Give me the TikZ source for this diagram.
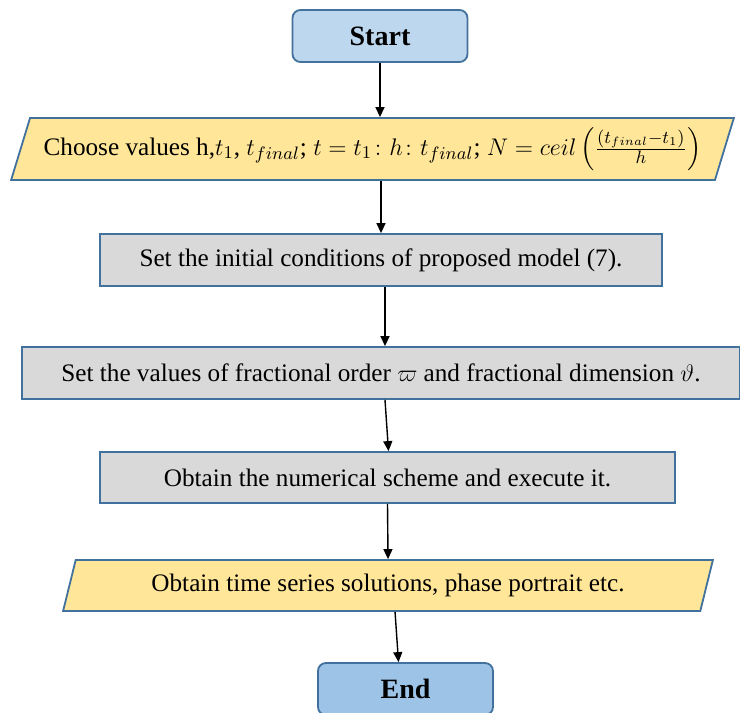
\documentclass[tikz,border=0pt]{standalone}
\usepackage{amsmath}
\usepackage{fontspec}
\setmainfont{Liberation Serif}
\usetikzlibrary{arrows.meta,shapes.geometric}
\definecolor{edgeBlue}{HTML}{41719C}
\definecolor{startBlue}{HTML}{BDD7EE}
\definecolor{endBlue}{HTML}{9DC3E6}
\definecolor{ioGold}{HTML}{FFE699}
\definecolor{stepGray}{HTML}{D9D9D9}
\tikzset{
  terminal card/.style={
    draw=edgeBlue,
    fill=startBlue,
    rounded corners=4pt,
    line width=0.9pt,
    minimum width=87.5pt,
    minimum height=26pt,
    font=\fontsize{14}{16}\selectfont\bfseries
  },
  io card/.style={
    trapezium,
    trapezium stretches=true,
    draw=edgeBlue,
    fill=ioGold,
    line width=0.9pt,
    inner xsep=2pt,
    font=\fontsize{12.6}{15}\selectfont
  },
  stepbox/.style={
    draw=edgeBlue,
    fill=stepGray,
    line width=0.9pt,
    minimum height=26pt,
    font=\fontsize{12.6}{15}\selectfont
  },
  flow edge/.style={
    -{Triangle[length=5pt,width=4.5pt]},
    draw=black,
    line width=0.7pt
  }
}

\begin{document}
\begin{tikzpicture}[x=0.5pt,y=-0.5pt]
  \useasboundingbox (0,0) rectangle (740,713);

  \node[terminal card] (start) at (380,36) {Start};

  \node[io card,trapezium left angle=72,trapezium right angle=108,
        minimum width=362.5pt,minimum height=31pt] (choose) at (372.5,149) {
    Choose values h,$t_1$, $t_{final}$; $t = t_1\colon h\colon t_{final}$;
    $N = ceil\left(\frac{(t_{final}-t_1)}{h}\right)$
  };

  \node[stepbox,minimum width=281pt] (initcond) at (381,260)
    {Set the initial conditions of proposed model (7).};
  \node[stepbox,minimum width=359pt] (fracvals) at (381,373)
    {Set the values of fractional order $\varpi$ and fractional dimension $\vartheta$.};
  \node[stepbox,minimum width=287.5pt,minimum height=25.5pt] (scheme) at (387.5,477.5)
    {Obtain the numerical scheme and execute it.};

  \node[io card,trapezium left angle=75,trapezium right angle=105,
        minimum width=326pt,minimum height=25.5pt] (output) at (388,585.5)
    {Obtain time series solutions, phase portrait etc.};

  \node[terminal card,fill=endBlue] (stop) at (405.5,689) {End};

  \draw[flow edge] (start.south) -- (start.south |- choose.north);
  \draw[flow edge] (choose.south -| initcond) -- (initcond.north);
  \draw[flow edge] ([xshift=2pt]initcond.south) -- ([xshift=2pt]fracvals.north);
  \draw[flow edge] ([xshift=2pt]fracvals.south) -- ([xshift=0.5pt]scheme.north);
  \draw[flow edge] (scheme.south) -- (output.north);
  \draw[flow edge] ([xshift=3.5pt]output.south) -- ([xshift=-3.5pt]stop.north);
\end{tikzpicture}
\end{document}
